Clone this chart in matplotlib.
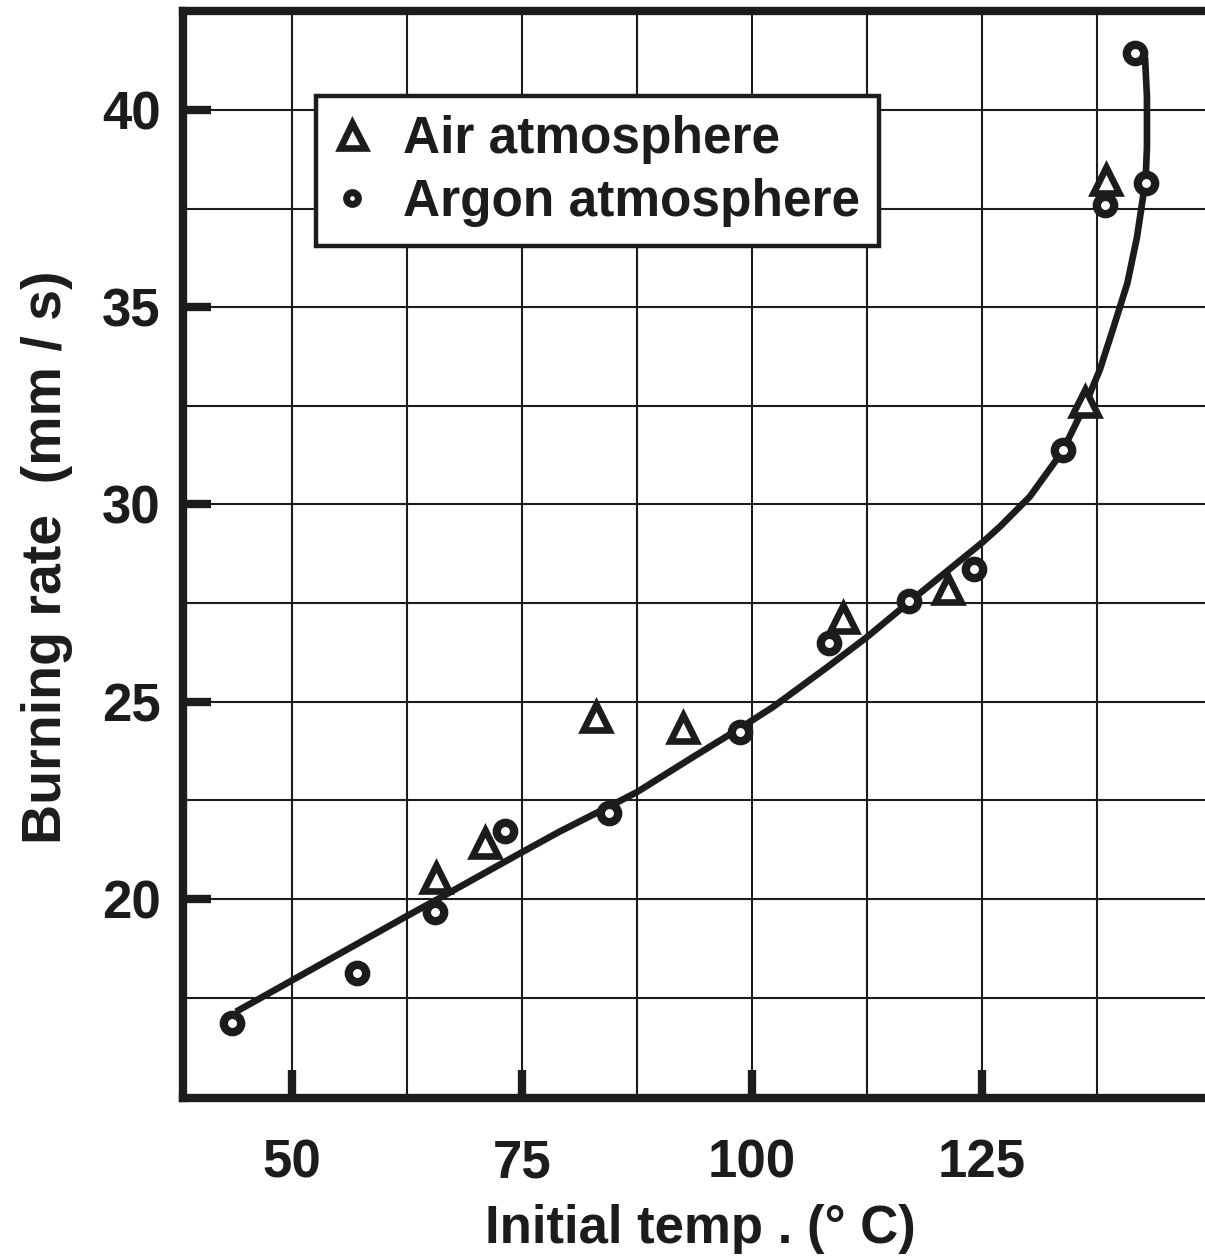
import matplotlib
matplotlib.use("Agg")
import matplotlib.pyplot as plt
from matplotlib.lines import Line2D

# ---- data ----
argon_temp = [43.5, 57.1, 65.5, 73.2, 84.5, 98.7, 108.4, 117.1, 124.1, 133.8, 138.4, 142.8, 141.6]
argon_rate = [16.85, 18.12, 19.68, 21.73, 22.19, 24.24, 26.48, 27.56, 28.36, 31.38, 37.60, 38.16, 41.44]

air_temp = [65.7, 71.0, 83.0, 92.5, 109.9, 121.3, 136.2, 138.5]
air_rate = [20.52, 21.42, 24.62, 24.33, 27.12, 27.85, 32.61, 38.23]

fit_temp = [43.9, 50.1, 56.3, 62.5, 66.1, 74.8, 79.1, 84.6, 87.5, 93.6, 98.7, 102.3,
            108.2, 112.5, 117.2, 125.1, 127.0, 130.2, 133.7, 136.2, 137.8, 139.2,
            140.8, 141.85, 142.5, 142.83, 142.93, 142.93, 142.72]
fit_rate = [17.14, 17.95, 18.76, 19.57, 20.03, 21.16, 21.71, 22.36, 22.71, 23.60, 24.33, 24.87,
            25.88, 26.64, 27.55, 29.05, 29.45, 30.20, 31.33, 32.52, 33.41, 34.42,
            35.61, 36.78, 37.79, 38.48, 39.06, 40.33, 41.34]

x_ticks = [50, 75, 100, 125]
x_grid_minor = [62.5, 87.5, 112.5, 137.5]
y_ticks = [20, 25, 30, 35, 40]
y_grid_minor = [17.5, 22.5, 27.5, 32.5, 37.5]

legend_labels = ["Air atmosphere", "Argon atmosphere"]
x_label = "Initial temp . (\u00b0 C)"
y_label = "Burning rate  (mm / s)"

# ---- styling ----
plt.rcParams['font.family'] = ['Liberation Sans', 'DejaVu Sans']
plt.rcParams['font.weight'] = 'bold'
INK = '#1c1c1c'

W, H = 1205, 1256
fig = plt.figure(figsize=(W / 100, H / 100), dpi=100)
fig.patch.set_facecolor('white')
ax = fig.add_axes([183 / W, (H - 1098) / H, (W - 183) / W, (1098 - 11) / H])

ax.set_xlim(38.15, 149.24)
ax.set_ylim(14.955, 42.51)

ax.set_xticks(x_ticks)
ax.set_xticks(x_grid_minor, minor=True)
ax.set_yticks(y_ticks)
ax.set_yticks(y_grid_minor, minor=True)
ax.set_xticklabels([str(v) for v in x_ticks])
ax.set_yticklabels([str(v) for v in y_ticks])

ax.grid(True, which='both', color=INK, linewidth=1.5, zorder=0)
ax.set_axisbelow(True)

ax.tick_params(which='major', direction='in', length=20, width=6, color=INK,
               labelsize=38, labelcolor=INK, top=False, right=False)
ax.tick_params(axis='x', which='major', pad=29)
ax.tick_params(axis='y', which='major', pad=16)
ax.tick_params(which='minor', length=0)
for lab in ax.get_xticklabels() + ax.get_yticklabels():
    lab.set_fontweight('bold')

for side in ['left', 'bottom', 'top']:
    ax.spines[side].set_linewidth(6)
    ax.spines[side].set_color(INK)
ax.spines['right'].set_visible(False)

# fitted curve
ax.plot(fit_temp, fit_rate, color=INK, linewidth=4.8, solid_joinstyle='round',
        solid_capstyle='butt', zorder=3)

# markers
ax.plot(air_temp, air_rate, linestyle='none', marker='^', markersize=19,
        markerfacecolor='white', markeredgecolor=INK, markeredgewidth=4.8, zorder=4)
ax.plot(argon_temp, argon_rate, linestyle='none', marker='o', markersize=12.5,
        markerfacecolor='white', markeredgecolor=INK, markeredgewidth=6, zorder=5)

# legend
h_air = Line2D([], [], linestyle='none', marker='^', markersize=18,
               markerfacecolor='white', markeredgecolor=INK, markeredgewidth=4.8)
h_arg = Line2D([], [], linestyle='none', marker='o', markersize=8.5,
               markerfacecolor='white', markeredgecolor=INK, markeredgewidth=5)
leg = ax.legend([h_air, h_arg], legend_labels, loc='upper left',
                bbox_to_anchor=((316 - 183) / (W - 183), (1098 - 96) / (1098 - 11)),
                borderaxespad=0, borderpad=0.37, handlelength=0.66, handletextpad=0.66,
                labelspacing=0.27, fancybox=False, framealpha=1, edgecolor=INK,
                prop={'size': 37, 'weight': 'bold'})
leg.get_frame().set_linewidth(3.2)
for t in leg.get_texts():
    t.set_color(INK)
leg.set_zorder(6)

# axis labels
fig.text(700 / W, (H - 1243) / H, x_label, ha='center', va='baseline',
         fontsize=38, fontweight='bold', color=INK)
fig.text(47 / W, (H - 557) / H, y_label, ha='center', va='center', rotation=90,
         fontsize=40, fontweight='bold', color=INK)

fig.savefig('out.png', dpi=100, facecolor='white')
